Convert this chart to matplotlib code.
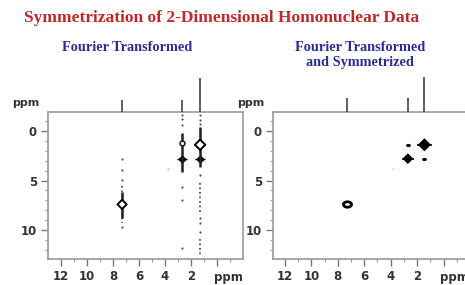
import matplotlib.pyplot as plt
from matplotlib.path import Path
from matplotlib.transforms import Affine2D, blended_transform_factory

# 1D projections on top (ppm, relative height)
left_proj_ppm = [7.3, 2.7, 1.3]
left_proj_height = [0.33, 0.33, 0.95]
right_proj_ppm = [7.3, 2.7, 1.45]
right_proj_height = [0.39, 0.39, 0.97]

# left panel: Fourier transformed
left_ring_x = [7.3, 1.3]
left_ring_y = [7.4, 1.4]
left_blob_x = [2.7, 1.3]
left_blob_y = [2.8, 2.8]
left_small_x = [2.7]
left_small_y = [1.2]
left_streak_x = [7.3, 2.7, 1.3]
left_streak_y0 = [6.2, 0.2, -0.4]
left_streak_y1 = [8.8, 4.1, 3.6]
left_weak_x = [7.3, 1.3, 1.3]
left_weak_y0 = [5.5, 5.2, 10.9]
left_weak_y1 = [9.3, 8.3, 12.7]
left_dot_x = [7.3, 7.3, 7.3, 7.3, 2.7, 2.7, 2.7, 2.7, 2.7, 2.7,
              1.3, 1.3, 1.3, 1.3, 1.3, 1.3, 1.3]
left_dot_y = [2.8, 3.9, 4.9, 9.7, -1.6, -1.2, -0.6, 5.7, 7.0, 11.8,
              -1.6, -1.1, -0.7, 4.4, 8.8, 9.3, 10.2]
faint_x = [3.8]
faint_y = [3.8]

# right panel: symmetrized
right_ring_x = [7.3]
right_ring_y = [7.4]
right_blob_x = [2.7, 1.45]
right_blob_y = [2.8, 1.4]
right_cross_x = [2.7, 1.45]
right_cross_y = [1.4, 2.8]

x_ticks = [12, 10, 8, 6, 4, 2]
y_ticks = [0, 5, 10]

W, H = 465, 285
fig = plt.figure(figsize=(W / 100, H / 100), dpi=100)

title_font = dict(family='Liberation Serif', weight='bold')
fig.text(222 / W, 1 - 18 / H, 'Symmetrization of 2-Dimensional Homonuclear Data',
         color='#c0282a', fontsize=12.5, ha='center', va='center', **title_font)
fig.text(127 / W, 1 - 47 / H, 'Fourier Transformed', color='#2b2b9a',
         fontsize=10.3, ha='center', va='center', **title_font)
fig.text(360 / W, 1 - 55 / H, 'Fourier Transformed\nand Symmetrized', color='#2b2b9a',
         fontsize=10.3, ha='center', va='center', linespacing=1.15, **title_font)

ellipse = Path.unit_circle().transformed(Affine2D().scale(1.5, 1.0))


def make_panel(x0, x1, xlim, proj_ppm, proj_h, ylab_x):
    bottom, top = 259, 112
    ax = fig.add_axes([x0 / W, 1 - bottom / H, (x1 - x0) / W, (bottom - top) / H])
    ax.set_xlim(*xlim)
    ax.set_ylim(12.9, -1.9)
    for s in ax.spines.values():
        s.set_color('#999999')
        s.set_linewidth(1.2)
    ax.set_xticks(x_ticks + [0])
    ax.set_xticklabels([str(t) for t in x_ticks] + [''])
    ax.set_xticks(range(-1, 13), minor=True)
    ax.set_yticks(y_ticks)
    ax.set_yticks(range(-1, 13), minor=True)
    ax.tick_params(which='major', length=5, width=1, color='#777777',
                   labelsize=8.5, labelcolor='#333333', pad=3)
    ax.tick_params(which='minor', length=2.5, width=0.8, color='#999999')
    for lab in ax.get_xticklabels() + ax.get_yticklabels():
        lab.set_fontweight('bold')
    tr = blended_transform_factory(ax.transData, ax.transAxes)
    ax.text(0.25, -0.085, 'ppm', transform=tr, ha='left', va='top',
            fontsize=8.5, color='#333333', fontweight='bold', clip_on=False)
    fig.text(ylab_x / W, 1 - 103 / H, 'ppm', ha='left', va='center',
             fontsize=8, color='#333333', fontweight='bold')

    proj = fig.add_axes([x0 / W, 1 - top / H, (x1 - x0) / W, 36 / H], sharex=ax)
    proj.set_ylim(0, 1)
    proj.axis('off')
    proj.vlines(proj_ppm, 0, proj_h, colors='#333333', linewidth=1.1)
    return ax


axl = make_panel(48, 243, (13, -2), left_proj_ppm, left_proj_height, 12)
axl.vlines(left_weak_x, left_weak_y0, left_weak_y1, colors='#555555',
           linewidth=1.3, linestyles=(0, (1, 1.5)))
axl.vlines(left_streak_x, left_streak_y0, left_streak_y1, colors='#222222', linewidth=1.8)
axl.scatter(left_dot_x, left_dot_y, s=2.5, color='#555555', linewidths=0)
axl.scatter(faint_x, faint_y, s=3, color='#cccccc', linewidths=0)
axl.scatter(left_blob_x, left_blob_y, marker='D', s=20, color='black', linewidths=0)
axl.scatter(left_blob_x, left_blob_y, marker='_', s=50, color='black', linewidths=1)
axl.scatter(left_small_x, left_small_y, marker='o', s=12, facecolor='white',
            edgecolor='#222222', linewidths=1.2, zorder=3)
axl.scatter(left_ring_x, left_ring_y, marker='D', s=[22, 28], facecolor='white',
            edgecolor='black', linewidths=1.4, zorder=3)

axr = make_panel(273, 470, (12.9, -2.0), right_proj_ppm, right_proj_height, 237)
axr.scatter(faint_x, faint_y, s=3, color='#dddddd', linewidths=0)
axr.scatter(right_ring_x, right_ring_y, marker=ellipse, s=34, facecolor='white',
            edgecolor='black', linewidths=2)
axr.scatter(right_blob_x, right_blob_y, marker='D', s=[30, 45], color='black', linewidths=0)
axr.scatter(right_blob_x, right_blob_y, marker='_', s=[80, 110], color='black', linewidths=1.2)
axr.scatter(right_cross_x, right_cross_y, marker=ellipse, s=12, color='black', linewidths=0)

fig.savefig('out.png', dpi=100)
